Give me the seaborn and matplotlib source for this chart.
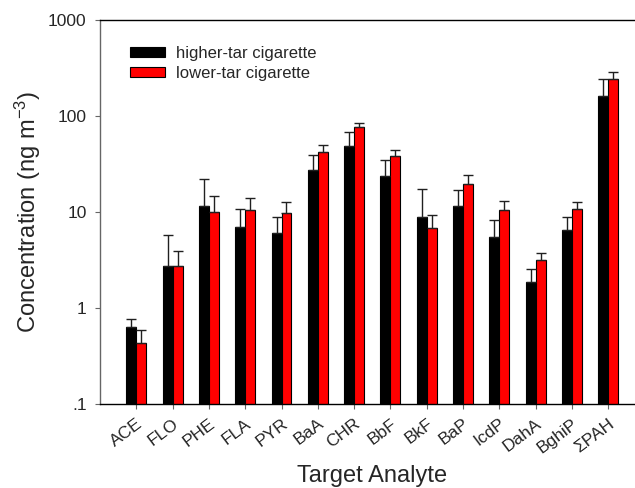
import numpy as np
import pandas as pd
import matplotlib
matplotlib.use("Agg")
import matplotlib.pyplot as plt
import seaborn as sns

# values (ng m^-3)
analytes = ["ACE", "FLO", "PHE", "FLA", "PYR", "BaA", "CHR", "BbF", "BkF",
            "BaP", "IcdP", "DahA", "BghiP", "ΣPAH"]
higher_tar = [0.64, 2.74, 11.5, 6.9, 6.04, 27.2, 48.7, 23.7, 8.94, 11.5, 5.44, 1.87, 6.49, 161]
higher_sd = [0.13, 3.06, 10.7, 3.8, 2.83, 12.3, 18.9, 10.8, 8.26, 5.6, 2.81, 0.70, 2.31, 84]
lower_tar = [0.428, 2.74, 10.0, 10.6, 9.77, 41.9, 76.2, 38.0, 6.88, 19.6, 10.4, 3.14, 10.8, 241]
lower_sd = [0.16, 1.15, 4.7, 3.3, 2.83, 8.0, 8.9, 6.6, 2.43, 4.5, 2.7, 0.63, 1.8, 49]
series = ["higher-tar cigarette", "lower-tar cigarette"]
yticks = [0.1, 1, 10, 100, 1000]
ytick_labels = [".1", "1", "10", "100", "1000"]

df = pd.DataFrame({
    "analyte": analytes * 2,
    "conc": higher_tar + lower_tar,
    "type": [series[0]] * len(analytes) + [series[1]] * len(analytes),
})

sns.set_style("ticks")
plt.rcParams["font.family"] = ["Liberation Sans", "DejaVu Sans"]
plt.rcParams["mathtext.fontset"] = "custom"
plt.rcParams["mathtext.rm"] = "Liberation Sans"
plt.rcParams["mathtext.default"] = "regular"

fig = plt.figure(figsize=(6.35, 4.88), dpi=100)
ax = fig.add_axes([100 / 635, 84 / 488, 544.5 / 635, 384 / 488])

sns.barplot(data=df, x="analyte", y="conc", hue="type", order=analytes,
            hue_order=series, palette=["black", "#ff0000"], saturation=1,
            width=0.55, errorbar=None, edgecolor="black", linewidth=0.8, ax=ax)
ax.set_yscale("log")

# one-sided (upper) error bars
for cont, sd in zip(ax.containers, [higher_sd, lower_sd]):
    xs = [p.get_x() + p.get_width() / 2 for p in cont]
    ys = [p.get_height() for p in cont]
    ax.errorbar(xs, ys, yerr=[np.zeros(len(sd)), sd], fmt="none",
                ecolor="#202020", elinewidth=1.0, capsize=3.6, capthick=1.0)

ax.set_xlim(-1, 14)
ax.set_ylim(0.1, 1000)
ax.set_yticks(yticks)
ax.set_yticklabels(ytick_labels)
ax.yaxis.set_minor_locator(matplotlib.ticker.NullLocator())
ax.tick_params(axis="y", labelsize=12.5, length=3.6, width=0.8, pad=6, color="#666666")
ax.tick_params(axis="x", labelsize=12.5, length=3.6, width=0.8, pad=5, color="#666666")
plt.setp(ax.get_xticklabels(), rotation=37, ha="right", rotation_mode="anchor")

for s in ["top", "bottom"]:
    ax.spines[s].set_color("black")
    ax.spines[s].set_linewidth(1.0)
ax.spines["left"].set_color("#666666")
ax.spines["left"].set_linewidth(1.0)
ax.spines["right"].set_visible(False)

ax.set_xlabel("Target Analyte", fontsize=17)
ax.set_ylabel("Concentration (ng m$^{-3}$)", fontsize=17)
ax.xaxis.set_label_coords(0.5, -0.158)
ax.yaxis.set_label_coords(-0.105, 0.5)

ax.legend(loc="upper left", bbox_to_anchor=(0.056, 0.932), frameon=False,
          fontsize=12, handlelength=2.05, handleheight=0.55, handletextpad=0.7,
          labelspacing=0.3, borderpad=0, borderaxespad=0)

fig.savefig("out.png", dpi=100)
